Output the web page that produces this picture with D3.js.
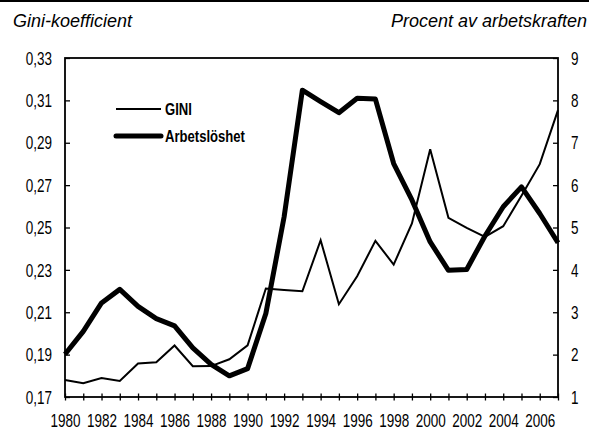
<!DOCTYPE html>
<html>
<head>
<meta charset="utf-8">
<script src="https://cdn.jsdelivr.net/npm/d3@7"></script>
<style>
  body { margin: 0; background: #fff; }
  svg { display: block; }
  .axis-title { font-family: "Liberation Sans", Arial, sans-serif; font-style: italic; font-size: 18px; fill: #000; }
</style>
</head>
<body>
<div id="chart"></div>
<script>
// ============ Data ============
const years = d3.range(1980, 2008);
const gini = [
  0.178, 0.1765, 0.179, 0.1776, 0.1858, 0.1864, 0.1943, 0.1845, 0.1846, 0.1878,
  0.1944, 0.2212, 0.2205, 0.2199, 0.244, 0.2138, 0.227, 0.2437, 0.2325, 0.2519,
  0.2869, 0.2546, 0.2498, 0.2456, 0.2506, 0.265, 0.2799, 0.3054
];
const unemployment = [
  2.01, 2.55, 3.22, 3.54, 3.14, 2.85, 2.68, 2.16, 1.77, 1.50,
  1.67, 2.97, 5.25, 8.24, 7.97, 7.71, 8.05, 8.03, 6.51, 5.65,
  4.66, 3.99, 4.01, 4.80, 5.49, 5.96, 5.33, 4.64
];
const leftTicks = [0.17, 0.19, 0.21, 0.23, 0.25, 0.27, 0.29, 0.31, 0.33];
const rightTicks = [1, 2, 3, 4, 5, 6, 7, 8, 9];
const yearLabels = d3.range(1980, 2007, 2);
const seriesNames = ['GINI', 'Arbetslöshet'];

// ============ Layout ============
const width = 589;
const height = 430;
const margin = { top: 58, right: 31, bottom: 33, left: 65 };
const innerW = width - margin.left - margin.right;
const innerH = height - margin.top - margin.bottom;
const labelFont = '"Liberation Sans", Arial, sans-serif';

const svg = d3.select('#chart').append('svg')
  .attr('width', width)
  .attr('height', height);

// top rule
svg.append('line')
  .attr('x1', 0).attr('x2', width)
  .attr('y1', 1).attr('y2', 1)
  .attr('stroke', '#000').attr('stroke-width', 2);

// axis titles
svg.append('text').attr('class', 'axis-title')
  .attr('x', 13).attr('y', 27)
  .text('Gini-koefficient');
svg.append('text').attr('class', 'axis-title')
  .attr('x', 587).attr('y', 27)
  .attr('text-anchor', 'end')
  .text('Procent av arbetskraften');

const g = svg.append('g').attr('transform', `translate(${margin.left},${margin.top})`);

// scales
const x = d3.scaleLinear().domain([1980, 2007]).range([0, innerW]);
const yL = d3.scaleLinear().domain([0.17, 0.33]).range([innerH, 0]);
const yR = d3.scaleLinear().domain([1, 9]).range([innerH, 0]);

// squeeze a text element in x around its own anchor point (condensed look)
function condense(sel, k) {
  sel.each(function () {
    const t = d3.select(this);
    const tx = +t.attr('x') || 0;
    const ty = +t.attr('y') || 0;
    t.attr('x', 0).attr('y', 0)
      .attr('transform', `translate(${tx},${ty}) scale(${k},1)`);
  });
}

// ============ Axes ============
const fmt = d3.format('.2f');

const leftAxis = g.append('g')
  .call(d3.axisLeft(yL).tickValues(leftTicks).tickSize(-5).tickPadding(13)
    .tickFormat(d => fmt(d).replace('.', ',')));

const rightAxis = g.append('g')
  .attr('transform', `translate(${innerW},0)`)
  .call(d3.axisRight(yR).tickValues(rightTicks).tickSize(-5).tickPadding(13));

const bottomAxis = g.append('g')
  .attr('transform', `translate(0,${innerH})`)
  .call(d3.axisBottom(x).tickValues(years).tickSize(3.5).tickFormat(''));

// cross ticks on the x axis
bottomAxis.selectAll('.tick line').attr('y1', -3.5);

const xLabels = g.append('g')
  .attr('transform', `translate(0,${innerH})`)
  .call(d3.axisBottom(x).tickValues(yearLabels).tickSize(0).tickPadding(30).tickFormat(d3.format('d')));

[leftAxis, rightAxis, bottomAxis, xLabels].forEach(a => {
  a.attr('font-family', labelFont).attr('font-size', 17.5);
  a.selectAll('.domain').remove();
  a.selectAll('.tick line').attr('stroke', '#000').attr('stroke-width', 1.3);
  a.selectAll('.tick text').attr('fill', '#000');
});
leftAxis.selectAll('.tick text').attr('dy', '0.35em').call(condense, 0.77);
rightAxis.selectAll('.tick text').attr('dy', '0.35em').call(condense, 0.77);
xLabels.selectAll('.tick text').attr('dy', '0').call(condense, 0.77);

// frame
g.append('rect')
  .attr('x', 0).attr('y', 0)
  .attr('width', innerW).attr('height', innerH)
  .attr('fill', 'none')
  .attr('stroke', '#000')
  .attr('stroke-width', 1.8);

// ============ Lines ============
const giniLine = d3.line()
  .x((d, i) => x(years[i]))
  .y(d => yL(d));
const unempLine = d3.line()
  .x((d, i) => x(years[i]))
  .y(d => yR(d));

g.append('path')
  .datum(unemployment)
  .attr('d', unempLine)
  .attr('fill', 'none')
  .attr('stroke', '#000')
  .attr('stroke-width', 5)
  .attr('stroke-linejoin', 'round');

g.append('path')
  .datum(gini)
  .attr('d', giniLine)
  .attr('fill', 'none')
  .attr('stroke', '#000')
  .attr('stroke-width', 2)
  .attr('stroke-linejoin', 'miter');

// ============ Legend ============
const legend = svg.append('g')
  .attr('font-family', labelFont)
  .attr('font-weight', 'bold')
  .attr('font-size', 17);
const legendRows = [
  { name: seriesNames[0], y: 109, w: 2, cap: 'butt' },
  { name: seriesNames[1], y: 136, w: 5, cap: 'round' }
];
legendRows.forEach(r => {
  legend.append('line')
    .attr('x1', 116).attr('x2', 161)
    .attr('y1', r.y).attr('y2', r.y)
    .attr('stroke', '#000')
    .attr('stroke-width', r.w)
    .attr('stroke-linecap', r.cap);
  legend.append('text')
    .attr('x', 165).attr('y', r.y)
    .attr('dy', '0.36em')
    .attr('fill', '#000')
    .text(r.name)
    .call(condense, 0.77);
});
</script>
</body>
</html>
